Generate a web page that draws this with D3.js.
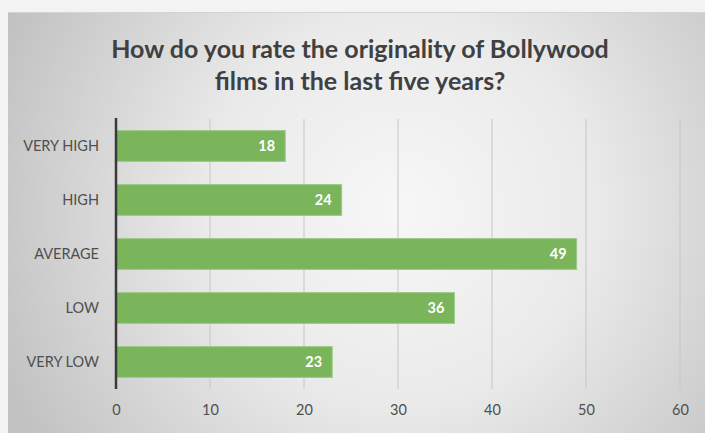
<!DOCTYPE html>
<html>
<head>
<meta charset="utf-8">
<script src="https://cdn.jsdelivr.net/npm/d3@7"></script>
<style>
  html, body { margin: 0; padding: 0; background: #f3f3f3; }
  svg { display: block; }
</style>
</head>
<body>
<svg id="chart" width="705" height="433"></svg>
<script>
// Survey answers, top to bottom
const categories = ["VERY HIGH", "HIGH", "AVERAGE", "LOW", "VERY LOW"];
const counts = [18, 24, 49, 36, 23];
const xTicks = [0, 10, 20, 30, 40, 50, 60];
const titleLines = ["How do you rate the originality of Bollywood", "films in the last five years?"];

const W = 705, H = 433;
const svg = d3.select("#chart");
const fontFamily = "Lato, 'Open Sans', sans-serif";

// Chart panel with a soft radial shading
const defs = svg.append("defs");
const grad = defs.append("radialGradient")
  .attr("id", "panelShade")
  .attr("gradientUnits", "userSpaceOnUse")
  .attr("cx", 400).attr("cy", 210).attr("r", 430);
grad.append("stop").attr("offset", "0%").attr("stop-color", "#f7f7f7");
grad.append("stop").attr("offset", "45%").attr("stop-color", "#eaeaea");
grad.append("stop").attr("offset", "100%").attr("stop-color", "#c2c2c2");

svg.append("rect").attr("x", 0).attr("y", 0).attr("width", W).attr("height", H).attr("fill", "#f3f3f3");
svg.append("rect").attr("x", 8).attr("y", 12).attr("width", W - 8).attr("height", H - 12)
  .attr("fill", "url(#panelShade)");
svg.append("line").attr("x1", 8).attr("x2", W).attr("y1", 12.5).attr("y2", 12.5)
  .attr("stroke", "#d4d4d4").attr("stroke-width", 1);

// Plot area
const plot = { left: 116, right: 680, top: 119, bottom: 389 };

const x = d3.scaleLinear().domain([0, 60]).range([plot.left, plot.right]);
const y = d3.scaleBand().domain(categories).range([plot.top, plot.bottom]).paddingInner(0.43).paddingOuter(0.215);

// Vertical gridlines
svg.append("g")
  .selectAll("line")
  .data(xTicks.filter(t => t > 0))
  .join("line")
  .attr("x1", d => x(d)).attr("x2", d => x(d))
  .attr("y1", plot.top).attr("y2", plot.bottom)
  .attr("stroke", "#c6c6c6").attr("stroke-width", 1);

// Bars
svg.append("g")
  .selectAll("rect")
  .data(categories.map((c, i) => ({ c, v: counts[i] })))
  .join("rect")
  .attr("x", x(0))
  .attr("y", d => y(d.c))
  .attr("width", d => x(d.v) - x(0))
  .attr("height", y.bandwidth())
  .attr("fill", "#7ab55c")
  .attr("stroke", "#9cc985").attr("stroke-width", 1);

// Value labels inside bar ends
svg.append("g")
  .selectAll("text")
  .data(categories.map((c, i) => ({ c, v: counts[i] })))
  .join("text")
  .attr("x", d => x(d.v) - 10)
  .attr("y", d => y(d.c) + y.bandwidth() / 2)
  .attr("dy", "0.35em")
  .attr("text-anchor", "end")
  .attr("font-family", fontFamily)
  .attr("font-weight", "bold")
  .attr("font-size", 14.5)
  .attr("fill", "#ffffff")
  .text(d => d.v);

// Category axis
const yAxis = d3.axisLeft(y).tickSize(0).tickPadding(17);
const gy = svg.append("g").attr("transform", `translate(${plot.left},0)`).call(yAxis);
gy.select(".domain").remove();
gy.selectAll("text")
  .attr("font-family", fontFamily)
  .attr("font-size", 14.5)
  .attr("fill", "#4f4f4f");

// Value axis labels
const xAxis = d3.axisBottom(x).tickValues(xTicks).tickSize(0).tickPadding(16);
const gx = svg.append("g").attr("transform", `translate(0,${plot.bottom})`).call(xAxis);
gx.select(".domain").remove();
gx.selectAll("text")
  .attr("font-family", fontFamily)
  .attr("font-size", 14.5)
  .attr("fill", "#4f4f4f");

// Zero line
svg.append("line")
  .attr("x1", x(0)).attr("x2", x(0))
  .attr("y1", plot.top - 1).attr("y2", plot.bottom)
  .attr("stroke", "#3a3a3a").attr("stroke-width", 2.5);

// Title
svg.append("g")
  .selectAll("text")
  .data(titleLines)
  .join("text")
  .attr("x", 360)
  .attr("y", (d, i) => 58 + i * 32)
  .attr("text-anchor", "middle")
  .attr("font-family", fontFamily)
  .attr("font-weight", "bold")
  .attr("font-size", 25)
  .attr("fill", "#404040")
  .text(d => d);
</script>
</body>
</html>
